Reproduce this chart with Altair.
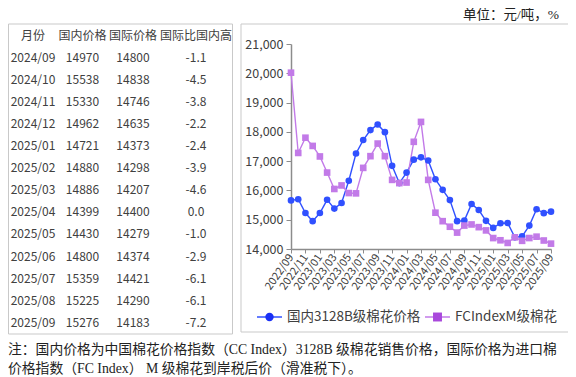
import altair as alt
import pandas as pd

# ---------------- data ----------------
months = [
    "2022/09", "2022/10", "2022/11", "2022/12", "2023/01", "2023/02", "2023/03", "2023/04",
    "2023/05", "2023/06", "2023/07", "2023/08", "2023/09", "2023/10", "2023/11", "2023/12",
    "2024/01", "2024/02", "2024/03", "2024/04", "2024/05", "2024/06", "2024/07", "2024/08",
    "2024/09", "2024/10", "2024/11", "2024/12", "2025/01", "2025/02", "2025/03", "2025/04",
    "2025/05", "2025/06", "2025/07", "2025/08", "2025/09",
]
domestic_early = [15660, 15700, 15230, 14950, 15230, 15680, 15380, 15570, 16330, 17260, 17720, 18060,
                  18250, 17990, 16840, 16250, 16610, 17050, 17130, 17020, 16380, 16020, 15670, 14950]
intl_early = [20020, 17280, 17800, 17520, 17160, 16610, 16050, 16170, 15910, 15900, 16770, 17170,
              17600, 17170, 16360, 16250, 16270, 17660, 18340, 16360, 15240, 14950, 14760, 14560]

table_months = ["2024/09", "2024/10", "2024/11", "2024/12", "2025/01", "2025/02", "2025/03",
                "2025/04", "2025/05", "2025/06", "2025/07", "2025/08", "2025/09"]
table_domestic = [14970, 15538, 15330, 14962, 14721, 14880, 14886, 14399, 14430, 14800, 15359, 15225, 15276]
table_intl = [14800, 14838, 14746, 14635, 14373, 14298, 14207, 14400, 14279, 14374, 14421, 14290, 14183]
table_ratio = [-1.1, -4.5, -3.8, -2.2, -2.4, -3.9, -4.6, 0.0, -1.0, -2.9, -6.1, -6.1, -7.2]
table_header = ["月份", "国内价格", "国际价格", "国际比国内高"]

series_names = ["国内3128B级棉花价格", "FCIndexM级棉花"]
y_ticks = [14000, 15000, 16000, 17000, 18000, 19000, 20000, 21000]
x_ticks = months[::2]

domestic = domestic_early + table_domestic
intl = intl_early + table_intl

# ---------------- styling ----------------
BLUE_LINE, BLUE_PT = "#3050ff", "#1a30f5"
PURP_LINE, PURP_PT = "#c27ae8", "#a948dc"
SANS = "Noto Sans CJK SC"
SERIF = "Liberation Serif, Noto Sans CJK SC"
TXT = "#404040"

long = pd.DataFrame({
    "month": months * 2,
    "value": domestic + intl,
    "series": [series_names[0]] * len(months) + [series_names[1]] * len(months),
})

xenc = alt.X("month:O", sort=months,
             scale=alt.Scale(type="point", domain=months, padding=0),
             axis=alt.Axis(values=x_ticks, labelAngle=-55, labelAlign="right", labelBaseline="middle",
                           labelFont=SANS, labelFontSize=11, labelColor=TXT, labelPadding=2,
                           tickSize=4, tickColor="#8c8c8c", domainColor="#8c8c8c", domainWidth=1.5,
                           title=None, grid=False))
yenc = alt.Y("value:Q", scale=alt.Scale(domain=[14000, 21000], nice=False, zero=False),
             axis=alt.Axis(values=y_ticks, format=",.0f", labelFont=SANS, labelFontSize=12.5,
                           labelColor=TXT, tickSize=5, tickColor="#8c8c8c", domainColor="#8c8c8c",
                           domainWidth=1.5, labelPadding=3, title=None, grid=False))

lines = alt.Chart(long).mark_line(strokeWidth=1.4).encode(
    x=xenc, y=yenc,
    color=alt.Color("series:N", scale=alt.Scale(domain=series_names, range=[BLUE_LINE, PURP_LINE]), legend=None),
)
pts = alt.Chart(long).mark_point(filled=True, opacity=1, size=44).encode(
    x=xenc, y=yenc,
    color=alt.Color("series:N", scale=alt.Scale(domain=series_names, range=[BLUE_PT, PURP_PT]), legend=None),
    shape=alt.Shape("series:N", scale=alt.Scale(domain=series_names, range=["circle", "square"]), legend=None),
)
main = alt.layer(lines, pts)

# ---------------- table ----------------
col_lists = [
    [table_header[0]] + table_months,
    [table_header[1]] + [str(v) for v in table_domestic],
    [table_header[2]] + [str(v) for v in table_intl],
    [table_header[3]] + [f"{v:.1f}" for v in table_ratio],
]
col_x = [-258, -208.5, -158, -95]
n_rows = len(col_lists[0])
row_scale = alt.Scale(type="point", domain=list(range(n_rows)), range=[-8, 278.7], padding=0)

table_layers = []
for cx, vals in zip(col_x, col_lists):
    d = pd.DataFrame({"row": list(range(n_rows)), "txt": vals})
    table_layers.append(
        alt.Chart(d).mark_text(font=SANS, fontSize=12, color=TXT, baseline="middle", align="center").encode(
            x=alt.value(cx),
            y=alt.Y("row:O", scale=row_scale, axis=None),
            text="txt:N",
        )
    )
table = alt.layer(*table_layers)

one = pd.DataFrame({"a": [0]})

def hline(x1, x2, y):
    return alt.Chart(one).mark_rule(color="#c9c9c9", strokeWidth=1).encode(
        x=alt.value(x1), x2=alt.value(x2), y=alt.value(y))

def vline(x, y1, y2):
    return alt.Chart(one).mark_rule(color="#c9c9c9", strokeWidth=1).encode(
        x=alt.value(x), y=alt.value(y1), y2=alt.value(y2))

def box(x1, x2, y1, y2):
    return [hline(x1, x2, y1), hline(x1, x2, y2), vline(x1, y1, y2), vline(x2, y1, y2)]

boxes = box(-282.5, -58.5, -20, 290) + box(-50, 281, -20, 288)

# ---------------- legend ----------------
LY = 273
leg = [
    alt.Chart(one).mark_rule(color=BLUE_LINE, strokeWidth=1.5).encode(x=alt.value(-34), x2=alt.value(-9), y=alt.value(LY)),
    alt.Chart(one).mark_point(shape="circle", filled=True, opacity=1, size=70, color=BLUE_PT).encode(x=alt.value(-21.5), y=alt.value(LY)),
    alt.Chart(one).mark_text(text=series_names[0], font=SANS, fontSize=13.5, color=TXT, align="left", baseline="middle").encode(x=alt.value(-4), y=alt.value(LY)),
    alt.Chart(one).mark_rule(color=PURP_LINE, strokeWidth=1.5).encode(x=alt.value(134), x2=alt.value(159), y=alt.value(LY)),
    alt.Chart(one).mark_point(shape="square", filled=True, opacity=1, size=80, color=PURP_PT).encode(x=alt.value(146.5), y=alt.value(LY)),
    alt.Chart(one).mark_text(text=series_names[1], font=SANS, fontSize=13.5, color=TXT, align="left", baseline="middle").encode(x=alt.value(164), y=alt.value(LY)),
]

# ---------------- annotations ----------------
unit = alt.Chart(one).mark_text(text="单位：元/吨，%", font=SERIF, fontSize=13.5, color="#222222",
                                align="right", baseline="middle").encode(x=alt.value(268), y=alt.value(-29))
note1 = alt.Chart(one).mark_text(
    text="注：国内价格为中国棉花价格指数（CC Index）3128B 级棉花销售价格，国际价格为进口棉",
    font=SERIF, fontSize=13.8, color="#222222", align="left", baseline="middle").encode(x=alt.value(-283), y=alt.value(306))
note2 = alt.Chart(one).mark_text(
    text="价格指数（FC Index） M 级棉花到岸税后价（滑准税下）。",
    font=SERIF, fontSize=13.8, color="#222222", align="left", baseline="middle").encode(x=alt.value(-283), y=alt.value(325))

chart = alt.layer(
    *boxes, main, table, *leg, unit, note1, note2
).resolve_scale(
    x="independent", y="independent", color="independent", shape="independent"
).properties(
    width=260, height=205,
    padding={"left": 283, "top": 36, "right": 17, "bottom": 128},
    autosize="none",
    background="white",
).configure_view(strokeWidth=0)

chart.save("out.html", embed_options={"renderer": "svg", "actions": False})
